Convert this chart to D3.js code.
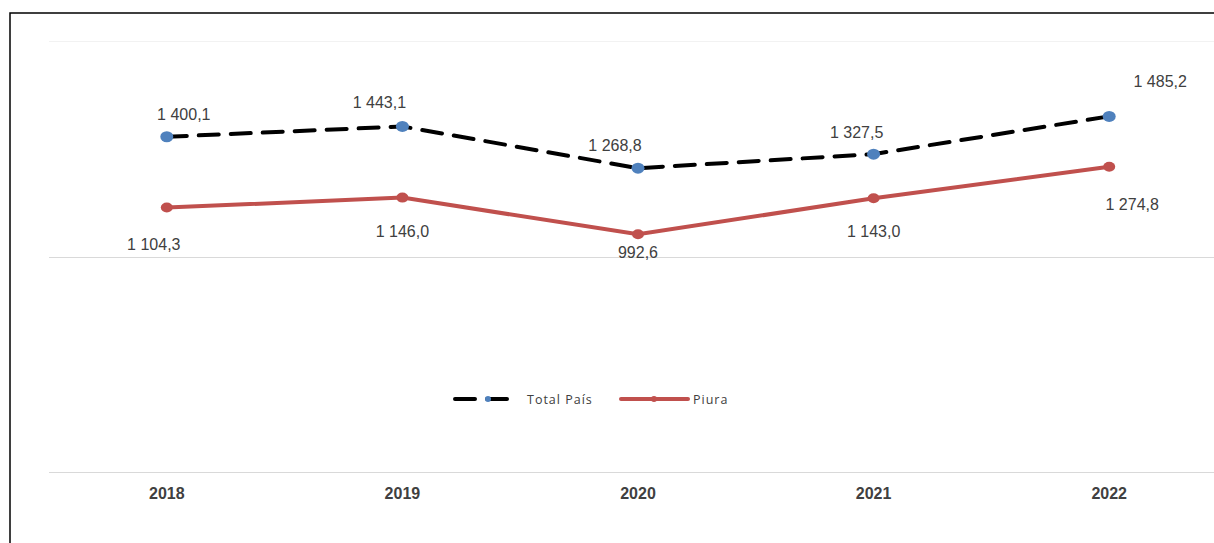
<!DOCTYPE html>
<html>
<head>
<meta charset="utf-8">
<script src="https://cdn.jsdelivr.net/npm/d3@7"></script>
<style>
  body { margin: 0; background: #fff; }
  svg { display: block; }
</style>
</head>
<body>
<div id="chart"></div>
<script>
const years = ['2018', '2019', '2020', '2021', '2022'];
const totalPais = [1400.1, 1443.1, 1268.8, 1327.5, 1485.2];
const piura = [1104.3, 1146.0, 992.6, 1143.0, 1274.8];
const yTicks = [0, 900, 1800];
// manual label nudges (dx, dy from the point), like the hand-placed labels in the original
const totalOffsets = [[17, -17], [-23, -18], [-23, -17], [-17, -16], [51, -29]];
const piuraOffsets = [[-13, 42], [0, 39], [0, 24], [0, 39], [23, 43]];

const width = 1214, height = 543;
const margin = {top: 41, right: -13, bottom: 71, left: 49};

const fmt = v => {
  const s = v.toFixed(1).replace('.', ',');
  const [i, d] = s.split(',');
  return i.replace(/\B(?=(\d{3})+(?!\d))/g, ' ') + ',' + d;
};

const svg = d3.select('#chart').append('svg')
  .attr('width', width)
  .attr('height', height);

// outer frame (runs off the right and bottom edge)
svg.append('rect')
  .attr('x', 10).attr('y', 13)
  .attr('width', width + 20).attr('height', height + 20)
  .attr('fill', 'none')
  .attr('stroke', '#000')
  .attr('stroke-width', 1.5);

const x = d3.scaleBand()
  .domain(years)
  .range([margin.left, width - margin.right]);

const y = d3.scaleLinear()
  .domain([0, 1800])
  .range([height - margin.bottom, margin.top]);

// gridlines
svg.append('g')
  .selectAll('line')
  .data(yTicks)
  .join('line')
  .attr('x1', margin.left)
  .attr('x2', width)
  .attr('y1', d => Math.round(y(d)) + 0.5)
  .attr('y2', d => Math.round(y(d)) + 0.5)
  .attr('stroke', (d, i) => i === yTicks.length - 1 ? '#f2f2f2' : '#d9d9d9')
  .attr('stroke-width', 1);

// x axis labels
const xAxis = d3.axisBottom(x).tickSize(0).tickPadding(16);
svg.append('g')
  .attr('transform', `translate(0, ${y(0)})`)
  .call(xAxis)
  .call(g => g.select('.domain').remove())
  .selectAll('text')
  .attr('font-family', 'Liberation Sans, Arial, sans-serif')
  .attr('font-size', 16)
  .attr('font-weight', 'bold')
  .attr('fill', '#404040');

const cx = d => x(d) + x.bandwidth() / 2;
const line = d3.line().x(d => cx(d.year)).y(d => y(d.value));

const series = [
  {name: 'Total País', values: totalPais, offsets: totalOffsets, stroke: '#000', dash: '20 12', dot: '#4f81bd', r: 6},
  {name: 'Piura', values: piura, offsets: piuraOffsets, stroke: '#c0504d', dash: null, dot: '#c0504d', r: 5.5}
];

series.slice().reverse().forEach(s => {
  const pts = s.values.map((v, i) => ({year: years[i], value: v}));
  const g = svg.append('g').attr('class', 'series');
  g.append('path')
    .datum(pts)
    .attr('d', line)
    .attr('fill', 'none')
    .attr('stroke', s.stroke)
    .attr('stroke-width', 4)
    .attr('stroke-dasharray', s.dash)
    .attr('stroke-linecap', 'round');
  g.selectAll('ellipse')
    .data(pts)
    .join('ellipse')
    .attr('cx', d => cx(d.year))
    .attr('cy', d => y(d.value))
    .attr('rx', s.r + 0.5)
    .attr('ry', s.r - 0.5)
    .attr('fill', s.dot);
  g.selectAll('text')
    .data(pts)
    .join('text')
    .attr('x', (d, i) => cx(d.year) + s.offsets[i][0])
    .attr('y', (d, i) => y(d.value) + s.offsets[i][1])
    .attr('text-anchor', 'middle')
    .attr('font-family', 'Liberation Sans, Arial, sans-serif')
    .attr('font-size', 16)
    .attr('fill', '#404040')
    .text(d => fmt(d.value));
});

// legend
const legend = svg.append('g').attr('transform', 'translate(455, 399)');
const legendItems = [
  {s: series[0], x: 0, len: 60, dotAt: 33, tx: 72},
  {s: series[1], x: 166, len: 67, dotAt: 33, tx: 72}
];
legendItems.forEach(it => {
  const g = legend.append('g').attr('transform', `translate(${it.x}, 0)`);
  g.append('line')
    .attr('x1', 0).attr('x2', it.len)
    .attr('y1', 0).attr('y2', 0)
    .attr('stroke', it.s.stroke)
    .attr('stroke-width', 4)
    .attr('stroke-dasharray', it.s.dash ? '20 12' : null)
    .attr('stroke-linecap', 'round');
  g.append('circle')
    .attr('cx', it.dotAt).attr('cy', 0)
    .attr('r', 3)
    .attr('fill', it.s.dot);
  g.append('text')
    .attr('x', it.tx)
    .attr('y', 4.5)
    .attr('font-family', 'Open Sans, sans-serif')
    .attr('font-size', 12.5)
    .attr('letter-spacing', 1)
    .attr('fill', '#404040')
    .text(it.s.name);
});
</script>
</body>
</html>
